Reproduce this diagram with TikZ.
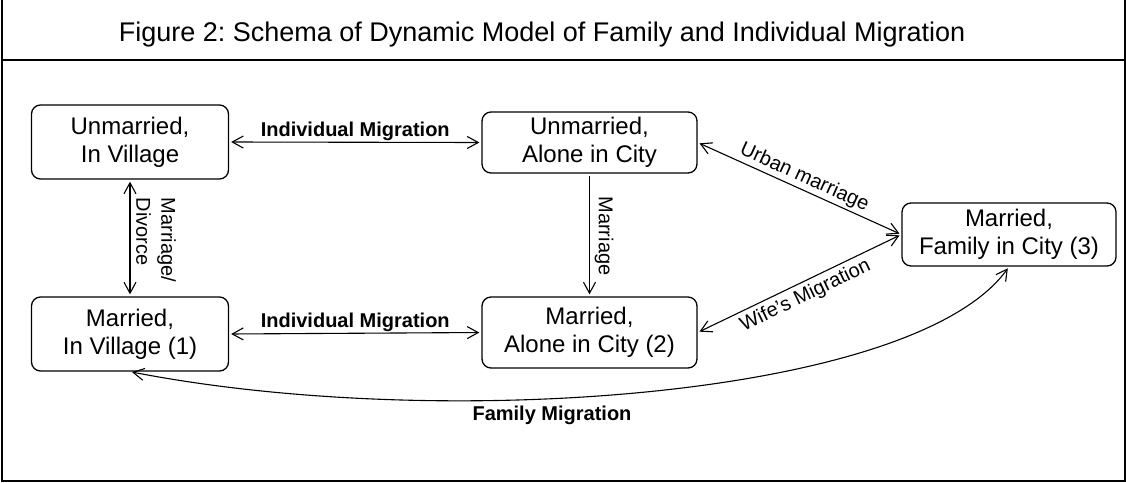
\documentclass[tikz,border=0pt]{standalone}
\usepackage{fontspec}
\setmainfont{Liberation Sans}
\usetikzlibrary{arrows.meta}
\frenchspacing

\begin{document}
\begin{tikzpicture}[x=1pt, y=-1pt,
  state/.style={draw, line width=1.3pt, rounded corners=9pt, align=center,
    inner sep=0pt, font=\fontsize{24}{28}\selectfont},
  link/.style={line width=1.1pt, shorten <=2pt, shorten >=2pt,
    {Straight Barb[length=11pt,width=12pt]}-{Straight Barb[length=11pt,width=12pt]}},
  lbl/.style={inner sep=1pt, font=\fontsize{20}{25}\selectfont},
  blbl/.style={inner sep=1pt, font=\bfseries\fontsize{20}{24}\selectfont}]
\useasboundingbox (0,0) rectangle (1126,482);
\draw [line width=1.3pt] (2,0) -- (2,481) -- (1125,481) -- (1125,0);
\draw [line width=1.3pt] (2,60) -- (1125,60);
\node [anchor=base, font=\fontsize{27}{31}\selectfont] (title) at (542,41)
  {Figure 2: Schema of Dynamic Model of Family and Individual Migration};

% states
\node [state, minimum width=197pt, minimum height=74pt] (uv) at (130,142) {Unmarried,\\In Village};
\node [state, minimum width=215pt, minimum height=61pt] (uc) at (589.5,142.5) {Unmarried,\\Alone in City};
\node [state, minimum width=197pt, minimum height=74pt] (mv) at (130,334) {Married,\\In Village (1)};
\node [state, minimum width=215pt, minimum height=71pt] (mc) at (589.5,332.5) {Married,\\Alone in City (2)};
\node [state, minimum width=214pt, minimum height=63pt] (fc) at (1009,234.5) {Married,\\Family in City (3)};

% moves
\draw [link] (uv.east) -- node [blbl, above] {Individual Migration} (uc.west);
\draw [link] (mv.east) -- node [blbl, above] {Individual Migration} (mc.west);
\draw [link] (uv.south) -- (mv.north);
\node [lbl, rotate=-90, align=left] (md) at (156,240) {Marriage/\\Divorce};
\draw [link, {-Straight Barb[length=11pt,width=12pt]}] (uc.south) -- (mc.north);
\node [lbl, rotate=-90] (ma) at (604,236) {Marriage};
\draw [link] (uc.east) -- node [lbl, sloped, above=1pt] {Urban marriage} (fc.west);
\draw [link] (mc.east) -- node [lbl, sloped, below=3pt] {Wife’s Migration} (fc.west);
\draw [link] (mv.south) .. controls (440,432) and (915,398) .. (fc.south);
\node [blbl, anchor=base] (fm) at (552,420) {Family Migration};
\end{tikzpicture}
\end{document}
